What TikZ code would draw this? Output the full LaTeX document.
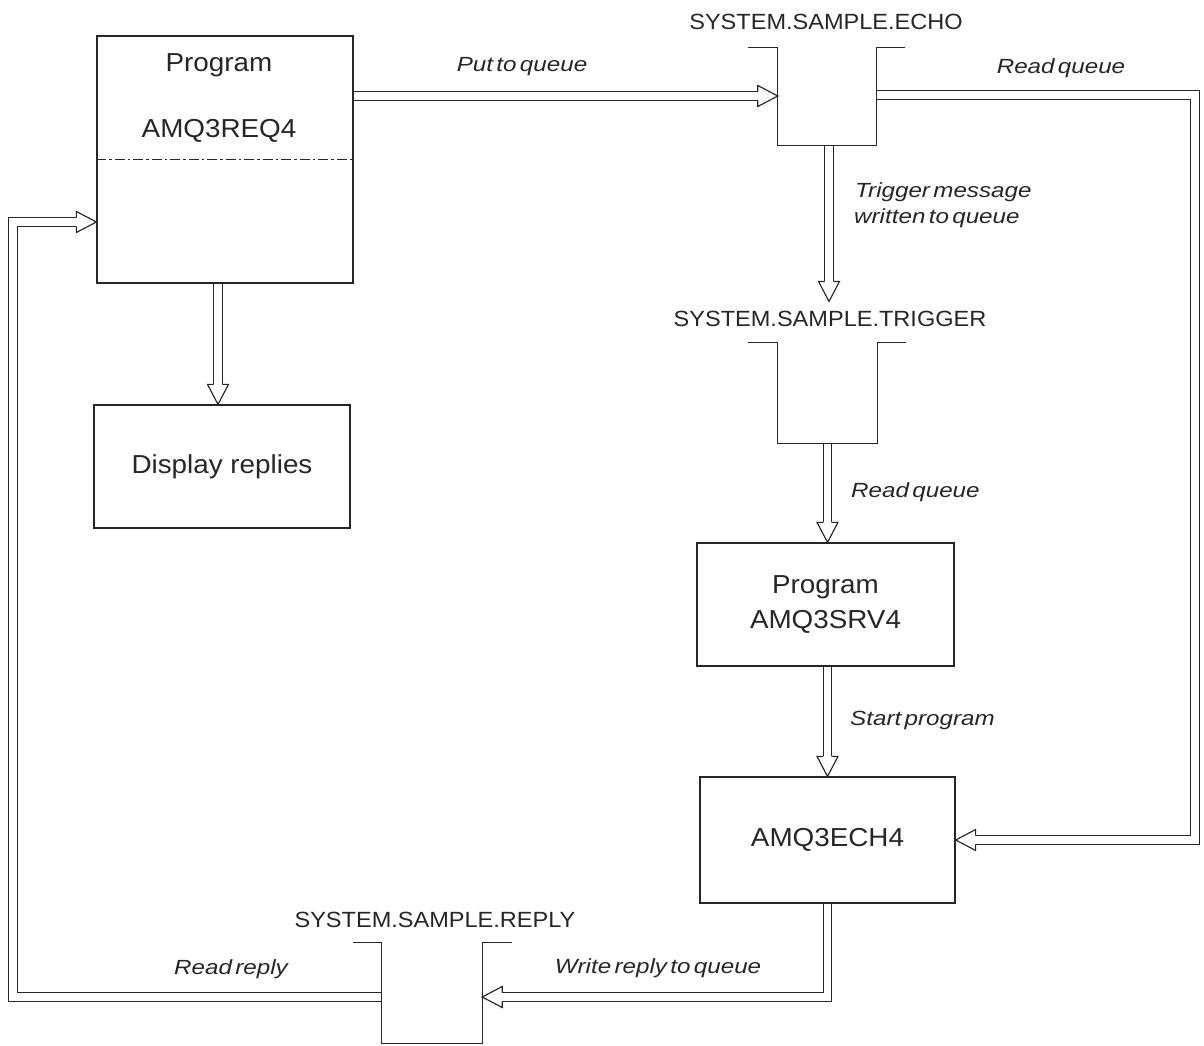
\documentclass[tikz,border=0pt]{standalone}
\usepackage{fontspec}
\setmainfont{Liberation Sans}[FakeStretch=1.07]
\newfontfamily\lblfont{Liberation Sans}[FakeStretch=1.18, WordSpace=0.5]
\usetikzlibrary{calc}
\pgfdeclarelayer{background}
\pgfsetlayers{background,main}

\tikzset{
  ln/.style={draw=black!85, line width=1.25pt},
  box/.style={ln, rectangle, inner sep=0pt, font=\fontsize{26}{35}\selectfont, align=center, text=black!85},
  btxt/.style={inner sep=0pt, anchor=base, font=\fontsize{26}{35}\selectfont, text=black!85},
  queue/.style={rectangle, inner sep=0pt},
  qtitle/.style={anchor=base, inner sep=0pt, font=\fontsize{22}{22}\selectfont, text=black!85},
  lbl/.style={inner sep=0pt, font=\lblfont\itshape\fontsize{20.5}{26}\selectfont, text=black!85},
  dbl/.style={draw=black!85, line width=1.15pt, double=white, double distance=7.5pt, shorten >=19.5pt, line join=miter},
  tiphead/.pic={
    \fill[white] (0,0) -- (-20,10.5) -- (-20,-10.5) -- cycle;
    \draw[draw=black!85, line width=1.15pt, line join=miter] (-20,4.3) -- (-20,10.5) -- (0,0) -- (-20,-10.5) -- (-20,-4.3);
  }
}

\begin{document}
\begin{tikzpicture}[x=1pt, y=-1pt]
\useasboundingbox (0,0) rectangle (1204,1046);

% boxes
\node[box, minimum width=256pt, minimum height=247pt] (req) at (225,159.5) {};
\node[btxt] (reqa) at (219,72) {Program};
\node[btxt] (reqb) at (219,138) {AMQ3REQ4};
\draw[draw=black!85, line width=1pt, dash pattern=on 10pt off 3pt on 2.5pt off 3pt] (req.west) -- (req.east);

\node[box, minimum width=256pt, minimum height=123pt] (disp) at (222,466.5) {Display replies};
\node[box, minimum width=257pt, minimum height=123pt] (srv) at (825.5,604.5) {Program\\AMQ3SRV4};
\node[box, minimum width=255pt, minimum height=126pt] (ech) at (827.5,840) {AMQ3ECH4};

% queues
\node[queue, minimum width=98pt, minimum height=97pt] (echo) at (827,96.5) {};
\draw[ln] ([xshift=-30pt]echo.north west) -- (echo.north west) -- (echo.south west) -- (echo.south east) -- (echo.north east) -- ++(29,0);
\node[qtitle] (echoT) at (826,30) {SYSTEM.SAMPLE.ECHO};

\node[queue, minimum width=99pt, minimum height=100pt] (trig) at (827.5,393) {};
\draw[ln] ([xshift=-30pt]trig.north west) -- (trig.north west) -- (trig.south west) -- (trig.south east) -- (trig.north east) -- ++(29,0);
\node[qtitle] (trigT) at (830,326) {SYSTEM.SAMPLE.TRIGGER};

\node[queue, minimum width=100pt, minimum height=100pt] (reply) at (432,993) {};
\draw[ln] ([xshift=-29pt]reply.north west) -- (reply.north west) -- (reply.south west) -- (reply.south east) -- (reply.north east) -- ++(30,0);
\node[qtitle] (replyT) at (435,927) {SYSTEM.SAMPLE.REPLY};

% helper coordinates
\coordinate (rq) at (1195,0);
\coordinate (lc) at (13,0);
\coordinate (trigTop) at ([yshift=9pt]trigT.north);
\coordinate (pin) at ([yshift=-62.5pt]req.west);
\coordinate (dtop) at ([xshift=-4pt]disp.north);

% connectors (behind the boxes and queues)
\begin{pgfonlayer}{background}
\draw[dbl] (req.south -| dtop) -- (dtop);
\pic[rotate=-90] at (dtop) {tiphead};

\draw[dbl] ([yshift=63.5pt]req.east) coordinate (a1) -- (a1 -| echo.west);
\pic at (a1 -| echo.west) {tiphead};

\draw[dbl] ([yshift=1.5pt]echo.east) coordinate (a3) -- (a3 -| rq) -- (ech.east -| rq) -- (ech.east);
\pic[rotate=180] at (ech.east) {tiphead};

\draw[dbl] ([xshift=2pt]echo.south) coordinate (a2) -- (a2 |- trigTop);
\pic[rotate=-90] at (a2 |- trigTop) {tiphead};

\draw[dbl] (trig.south) -- (trig.south |- srv.north);
\pic[rotate=-90] at (trig.south |- srv.north) {tiphead};

\draw[dbl] (ech.north |- srv.south) -- (ech.north);
\pic[rotate=-90] at (ech.north) {tiphead};

\draw[dbl] (ech.south) -- ([yshift=-4pt]ech.south |- reply.east) coordinate (a4) -- (a4 -| reply.east);
\pic[rotate=180] at (a4 -| reply.east) {tiphead};

\draw[dbl] ([yshift=-4pt]reply.west) coordinate (a5) -- (a5 -| lc) -- (lc |- pin) -- (pin);
\pic at (pin) {tiphead};
\end{pgfonlayer}

% labels
\node[lbl, anchor=base] (l1) at (522,72) {Put to queue};
\node[lbl, anchor=base] (l2) at (1061,74) {Read queue};
\node[lbl, anchor=base west] (l3) at (855,197) {Trigger message};
\node[lbl, anchor=base west] (l4) at (854,223) {written to queue};
\node[lbl, anchor=base west] (l5) at (851,497) {Read queue};
\node[lbl, anchor=base west] (l6) at (850,725) {Start program};
\node[lbl, anchor=base] (l7) at (658,973) {Write reply to queue};
\node[lbl, anchor=base] (l8) at (231,974) {Read reply};
\end{tikzpicture}
\end{document}
